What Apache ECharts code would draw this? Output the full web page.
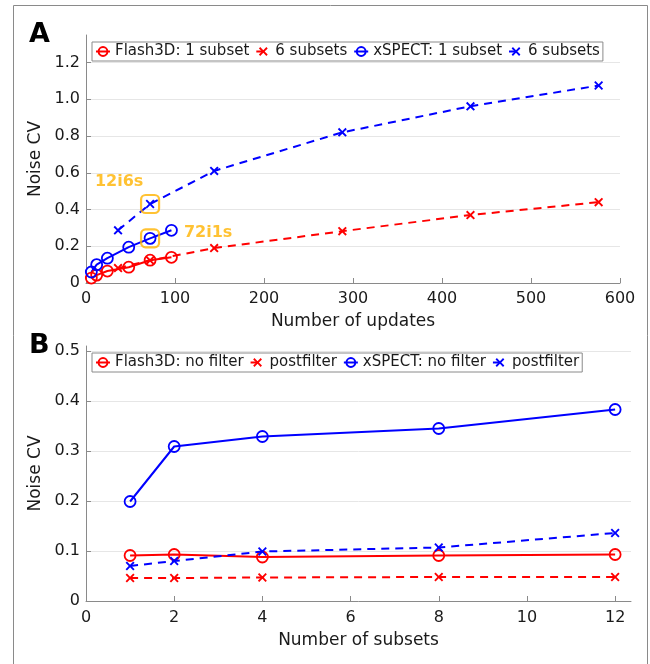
<!DOCTYPE html>
<html>
<head>
<meta charset="utf-8">
<script src="https://cdn.jsdelivr.net/npm/echarts@6.0.0/dist/echarts.min.js"></script>
<style>
  html, body { margin: 0; padding: 0; background: #fff; }
  #chart { width: 650px; height: 664px; }
</style>
</head>
<body>
<div id="chart"></div>
<script>
// panel A: noise CV vs number of updates
var updates1 = [6, 12, 24, 48, 72, 96];
var updates6 = [36, 72, 144, 288, 432, 576];
var flash1 = [0.027, 0.043, 0.065, 0.086, 0.124, 0.140];
var flash6 = [0.081, 0.123, 0.190, 0.282, 0.370, 0.440];
var xspect1 = [0.060, 0.100, 0.135, 0.195, 0.243, 0.287];
var xspect6 = [0.287, 0.430, 0.610, 0.820, 0.962, 1.075];
var updateTicks = [0, 100, 200, 300, 400, 500, 600];

// boxed points + their labels
var boxX = [72, 72];
var boxY = [0.430, 0.243];
var boxText = ["12i6s", "72i1s"];

// panel B: noise CV vs number of subsets
var subsets = [1, 2, 4, 8, 12];
var flashNoFilter = [0.091, 0.093, 0.088, 0.091, 0.093];
var flashPost = [0.046, 0.046, 0.047, 0.048, 0.048];
var xspectNoFilter = [0.199, 0.309, 0.329, 0.345, 0.383];
var xspectPost = [0.070, 0.080, 0.099, 0.107, 0.136];
var subsetTicks = [0, 2, 4, 6, 8, 10, 12];

var RED = "#ff0000", BLUE = "#0000ff", ORANGE = "#ffb300";
var FONT = "DejaVu Sans";
var CROSS = "path://M1.5,0L5,3.5L8.5,0L10,1.5L6.5,5L10,8.5L8.5,10L5,6.5L1.5,10L0,8.5L3.5,5L0,1.5Z";

var legendNames = {
    "Flash3D: 6 subsets": "6 subsets",
    "xSPECT: 6 subsets": "6 subsets",
    "Flash3D: postfilter": "postfilter",
    "xSPECT: postfilter": "postfilter"
};

function zip(xs, ys) {
    return xs.map(function (x, i) { return [x, ys[i]]; });
}

function lineSeries(name, idx, xs, ys, color, marker, dashed) {
    var circle = marker === "o";
    return {
        name: name,
        type: "line",
        xAxisIndex: idx,
        yAxisIndex: idx,
        data: zip(xs, ys),
        symbol: circle ? "circle" : CROSS,
        symbolSize: circle ? 11 : 9,
        showAllSymbol: true,
        lineStyle: { color: color, width: 2, type: dashed ? [8, 6] : "solid" },
        itemStyle: circle
            ? { color: "rgba(255,255,255,0)", borderColor: color, borderWidth: 1.8 }
            : { color: color, borderWidth: 0 },
        z: circle ? 3 : 4
    };
}

function yLabel(v) {
    return v === 0 ? "0" : v.toFixed(1);
}

var axisText = { color: "#1a1a1a", fontSize: 16, fontFamily: FONT };
var axisLine = { show: true, onZero: false, lineStyle: { color: "#8a8a8a", width: 1 } };
var tick = { show: true, inside: true, length: 5, lineStyle: { color: "#8a8a8a" } };

function legendOf(names, top) {
    return {
        data: names,
        left: 92,
        top: top,
        orient: "horizontal",
        itemWidth: 14,
        itemHeight: 11,
        itemGap: 6,
        padding: [2, 3],
        borderColor: "#8a8a8a",
        borderWidth: 1,
        backgroundColor: "#fff",
        textStyle: { color: "#1a1a1a", fontSize: 15, fontFamily: FONT },
        formatter: function (n) { return legendNames[n] || n; }
    };
}

var chart = echarts.init(document.getElementById("chart"), null, { renderer: "canvas" });

var option = {
    animation: false,
    backgroundColor: "#fff",
    grid: [
        { left: 86, top: 35, right: 30, bottom: 381 },
        { left: 86, top: 346, right: 19, bottom: 63 }
    ],
    legend: [
        legendOf(["Flash3D: 1 subset", "Flash3D: 6 subsets", "xSPECT: 1 subset", "xSPECT: 6 subsets"], 42),
        legendOf(["Flash3D: no filter", "Flash3D: postfilter", "xSPECT: no filter", "xSPECT: postfilter"], 353)
    ],
    xAxis: [
        {
            type: "value", gridIndex: 0, min: 0, max: 600, interval: 100,
            name: "Number of updates", nameLocation: "middle", nameGap: 30,
            nameTextStyle: { color: "#1a1a1a", fontSize: 17, fontFamily: FONT },
            axisLine: axisLine,
            axisTick: Object.assign({ customValues: updateTicks }, tick),
            axisLabel: Object.assign({ margin: 8, customValues: updateTicks }, axisText),
            splitLine: { show: false }
        },
        {
            type: "value", gridIndex: 1, min: 0, max: 12.36, interval: 2,
            name: "Number of subsets", nameLocation: "middle", nameGap: 31,
            nameTextStyle: { color: "#1a1a1a", fontSize: 17, fontFamily: FONT },
            axisLine: axisLine,
            axisTick: Object.assign({ customValues: subsetTicks }, tick),
            axisLabel: Object.assign({ margin: 9, customValues: subsetTicks }, axisText),
            splitLine: { show: false }
        }
    ],
    yAxis: [
        {
            type: "value", gridIndex: 0, min: 0, max: 1.35, interval: 0.2,
            name: "Noise CV", nameLocation: "middle", nameGap: 37,
            nameTextStyle: { color: "#1a1a1a", fontSize: 17, fontFamily: FONT },
            axisLine: axisLine,
            axisTick: tick,
            axisLabel: Object.assign({ margin: 6, showMaxLabel: false, formatter: yLabel }, axisText),
            splitLine: { show: true, showMaxLine: false, lineStyle: { color: "#e6e6e6", width: 1 } }
        },
        {
            type: "value", gridIndex: 1, min: 0, max: 0.51, interval: 0.1,
            name: "Noise CV", nameLocation: "middle", nameGap: 37,
            nameTextStyle: { color: "#1a1a1a", fontSize: 17, fontFamily: FONT },
            axisLine: axisLine,
            axisTick: tick,
            axisLabel: Object.assign({ margin: 6, showMaxLabel: false, formatter: yLabel }, axisText),
            splitLine: { show: true, showMaxLine: false, lineStyle: { color: "#e6e6e6", width: 1 } }
        }
    ],
    graphic: [
        {
            type: "rect", silent: true, z: -1,
            shape: { x: 13.5, y: 5.5, width: 634, height: 700 },
            style: { fill: null, stroke: "#8a8a8a", lineWidth: 1 }
        },
        {
            type: "text", left: 29, top: 21,
            style: { text: "A", font: "bold 27px " + FONT, fill: "#000" }
        },
        {
            type: "text", left: 29, top: 332,
            style: { text: "B", font: "bold 27px " + FONT, fill: "#000" }
        }
    ],
    series: [
        lineSeries("Flash3D: 1 subset", 0, updates1, flash1, RED, "o", false),
        lineSeries("Flash3D: 6 subsets", 0, updates6, flash6, RED, "x", true),
        lineSeries("xSPECT: 1 subset", 0, updates1, xspect1, BLUE, "o", false),
        lineSeries("xSPECT: 6 subsets", 0, updates6, xspect6, BLUE, "x", true),
        {
            name: "boxes",
            type: "scatter",
            xAxisIndex: 0,
            yAxisIndex: 0,
            data: boxX.map(function (x, i) {
                return {
                    value: [x, boxY[i]],
                    label: { offset: i === 0 ? [-31, -22] : [58, -6] }
                };
            }),
            symbol: "roundRect",
            symbolSize: 18,
            itemStyle: { color: "rgba(255,255,255,0)", borderColor: ORANGE, borderWidth: 2.2 },
            label: {
                show: true,
                position: "inside",
                formatter: function (p) { return boxText[p.dataIndex]; },
                color: ORANGE,
                fontSize: 16,
                fontWeight: "bold",
                fontFamily: FONT
            },
            z: 5
        },
        lineSeries("Flash3D: no filter", 1, subsets, flashNoFilter, RED, "o", false),
        lineSeries("Flash3D: postfilter", 1, subsets, flashPost, RED, "x", true),
        lineSeries("xSPECT: no filter", 1, subsets, xspectNoFilter, BLUE, "o", false),
        lineSeries("xSPECT: postfilter", 1, subsets, xspectPost, BLUE, "x", true)
    ]
};

chart.setOption(option);
</script>
</body>
</html>
